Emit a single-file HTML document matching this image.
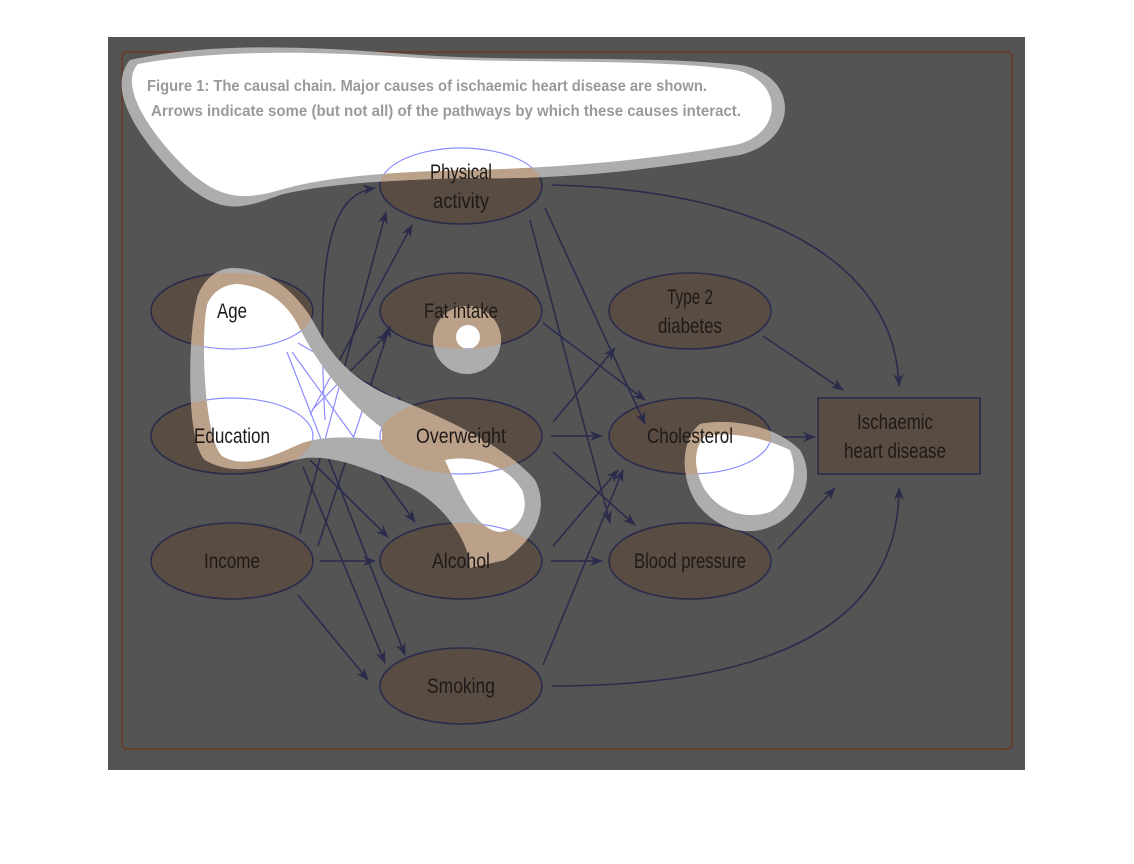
<!DOCTYPE html>
<html><head><meta charset="utf-8"><style>
html,body{margin:0;padding:0;background:#fff;}
svg{display:block;}
text{font-family:"Liberation Sans",sans-serif;font-size:21px;fill:#1e1a18;text-anchor:middle;}
</style></head><body>
<svg width="1134" height="864" viewBox="0 0 1134 864" xmlns="http://www.w3.org/2000/svg">
<defs>
<marker id="a" markerWidth="14" markerHeight="12" refX="12" refY="6" orient="auto" markerUnits="userSpaceOnUse">
<path d="M0,1 L13,6 L0,11 L4,6 Z" fill="#2b2c4c"/></marker>
<g id="ells">
<ellipse cx="461" cy="186" rx="81" ry="38"/>
<ellipse cx="232" cy="311" rx="81" ry="38"/>
<ellipse cx="461" cy="311" rx="81" ry="38"/>
<ellipse cx="690" cy="311" rx="81" ry="38"/>
<ellipse cx="232" cy="436" rx="81" ry="38"/>
<ellipse cx="461" cy="436" rx="81" ry="38"/>
<ellipse cx="690" cy="436" rx="81" ry="38"/>
<ellipse cx="232" cy="561" rx="81" ry="38"/>
<ellipse cx="461" cy="561" rx="81" ry="38"/>
<ellipse cx="690" cy="561" rx="81" ry="38"/>
<ellipse cx="461" cy="686" rx="81" ry="38"/>
</g>
<g id="edges">
<path d="M552,185 C760,190 895,260 899,386"/>
<path d="M545,208 L645,424"/>
<path d="M530,220 L610,523"/>
<path d="M543,323 L645,400"/>
<path d="M763,336 L843,390"/>
<path d="M553,422 L615,348"/>
<path d="M551,436 L602,436"/>
<path d="M553,452 L635,525"/>
<path d="M778,437 L815,437"/>
<path d="M553,546 L618,470"/>
<path d="M551,561 L602,561"/>
<path d="M778,549 L835,488"/>
<path d="M543,665 L623,470"/>
<path d="M552,686 C780,686 899,620 899,488"/>
<path d="M320,561 L375,561"/>
<path d="M298,595 L368,680"/>
<path d="M300,533 L386,212"/>
<path d="M318,546 L390,326"/>
<path d="M325,420 C316,250 330,195 375,188"/>
<path d="M298,343 L405,405"/>
<path d="M292,352 L415,522"/>
<path d="M287,352 L405,655"/>
<path d="M310,415 L412,225"/>
<path d="M312,410 L388,333"/>
<path d="M310,460 L388,537"/>
<path d="M303,467 L385,663"/>
</g>
<clipPath id="ce">
<ellipse cx="461" cy="186" rx="81" ry="38"/>
<ellipse cx="232" cy="311" rx="81" ry="38"/>
<ellipse cx="461" cy="311" rx="81" ry="38"/>
<ellipse cx="232" cy="436" rx="81" ry="38"/>
<ellipse cx="461" cy="436" rx="81" ry="38"/>
<ellipse cx="690" cy="436" rx="81" ry="38"/>
<ellipse cx="461" cy="561" rx="81" ry="38"/>
<ellipse cx="690" cy="561" rx="81" ry="38"/>
</clipPath>
<path id="g1" d="M130,60 C220,40 330,48 420,55 C520,62 650,55 740,65 C800,75 800,140 740,155 C650,170 560,180 470,178 C380,180 320,185 280,195 C240,210 220,215 180,180 C140,140 105,90 130,60 Z"/>
<path id="w1" d="M138,64 C225,48 330,52 420,58 C520,64 650,58 735,70 C785,80 783,135 735,145 C650,160 560,168 470,170 C380,172 320,178 280,190 C245,200 222,200 190,172 C150,135 118,85 138,64 Z"/>
<path id="g2" d="M233,268 C270,268 300,295 318,330 C335,362 360,385 400,400 C450,420 510,450 535,480 C548,505 540,535 505,560 L470,568 C470,540 440,500 405,485 C370,470 335,455 305,458 C270,465 235,478 205,460 C185,440 188,330 198,295 C205,278 218,268 233,268 Z"/>
<path id="w2" d="M238,284 C262,286 285,300 298,325 C318,365 345,400 382,428 L382,440 C350,436 320,436 300,444 C275,455 245,470 222,456 C205,440 200,340 207,305 C212,292 224,284 238,284 Z"/>
<path id="w3" d="M445,460 C470,455 505,462 522,490 C530,510 520,530 500,532 C478,530 462,500 445,460 Z"/>
<circle id="g4" cx="467" cy="340" r="34"/>
<circle id="w4" cx="468" cy="337" r="12"/>
<path id="g5" d="M700,424 C730,418 775,425 800,450 C815,475 805,505 780,522 C750,540 718,530 698,505 C680,480 680,440 700,424 Z"/>
<path id="w5" d="M705,436 C730,432 760,436 790,450 C800,475 790,500 770,512 C745,520 720,512 705,490 C693,470 693,448 705,436 Z"/>
<clipPath id="cw"><use href="#w1"/><use href="#w2"/><use href="#w3"/><use href="#w4"/><use href="#w5"/></clipPath>
</defs>
<rect x="108" y="37" width="917" height="733" fill="#545454"/>
<rect x="122" y="52" width="890" height="697" rx="5" fill="none" stroke="#6a3a22" stroke-width="1.5"/>

<use href="#ells" fill="#594c42" stroke="#2b2c4c" stroke-width="1.6"/>
<rect x="818" y="398" width="162" height="76" fill="#594c42" stroke="#2b2c4c" stroke-width="1.6"/>
<g stroke="#2b2c4c" stroke-width="1.6" fill="none" marker-end="url(#a)"><use href="#edges"/></g>

<g fill="#adadad"><use href="#g1"/><use href="#g2"/><use href="#g4"/><use href="#g5"/></g>
<g clip-path="url(#ce)"><g fill="#bba08a"><use href="#g1"/><use href="#g2"/><use href="#g4"/><use href="#g5"/></g></g>
<g fill="#fff"><use href="#w1"/><use href="#w2"/><use href="#w3"/><use href="#w4"/><use href="#w5"/></g>
<g clip-path="url(#cw)"><g fill="none" stroke="#8c8cff" stroke-width="1.2">
<use href="#ells"/><use href="#edges"/></g></g>

<text x="427" y="91" style="font-size:16px;font-weight:bold;fill:#9a9a9e" textLength="560" lengthAdjust="spacingAndGlyphs">Figure 1: The causal chain. Major causes of ischaemic heart disease are shown.</text>
<text x="446" y="116" style="font-size:16px;font-weight:bold;fill:#9a9a9e" textLength="590" lengthAdjust="spacingAndGlyphs">Arrows indicate some (but not all) of the pathways by which these causes interact.</text>

<text x="461" y="179" textLength="62" lengthAdjust="spacingAndGlyphs">Physical</text>
<text x="461" y="208" textLength="56" lengthAdjust="spacingAndGlyphs">activity</text>
<text x="232" y="318" textLength="30" lengthAdjust="spacingAndGlyphs">Age</text>
<text x="461" y="318" textLength="74" lengthAdjust="spacingAndGlyphs">Fat intake</text>
<text x="690" y="304" textLength="46" lengthAdjust="spacingAndGlyphs">Type 2</text>
<text x="690" y="333" textLength="64" lengthAdjust="spacingAndGlyphs">diabetes</text>
<text x="232" y="443" textLength="76" lengthAdjust="spacingAndGlyphs">Education</text>
<text x="461" y="443" textLength="90" lengthAdjust="spacingAndGlyphs">Overweight</text>
<text x="690" y="443" textLength="86" lengthAdjust="spacingAndGlyphs">Cholesterol</text>
<text x="232" y="568" textLength="56" lengthAdjust="spacingAndGlyphs">Income</text>
<text x="461" y="568" textLength="58" lengthAdjust="spacingAndGlyphs">Alcohol</text>
<text x="690" y="568" textLength="112" lengthAdjust="spacingAndGlyphs">Blood pressure</text>
<text x="461" y="693" textLength="68" lengthAdjust="spacingAndGlyphs">Smoking</text>
<text x="895" y="429" textLength="76" lengthAdjust="spacingAndGlyphs">Ischaemic</text>
<text x="895" y="458" textLength="102" lengthAdjust="spacingAndGlyphs">heart disease</text>
</svg>
</body></html>
